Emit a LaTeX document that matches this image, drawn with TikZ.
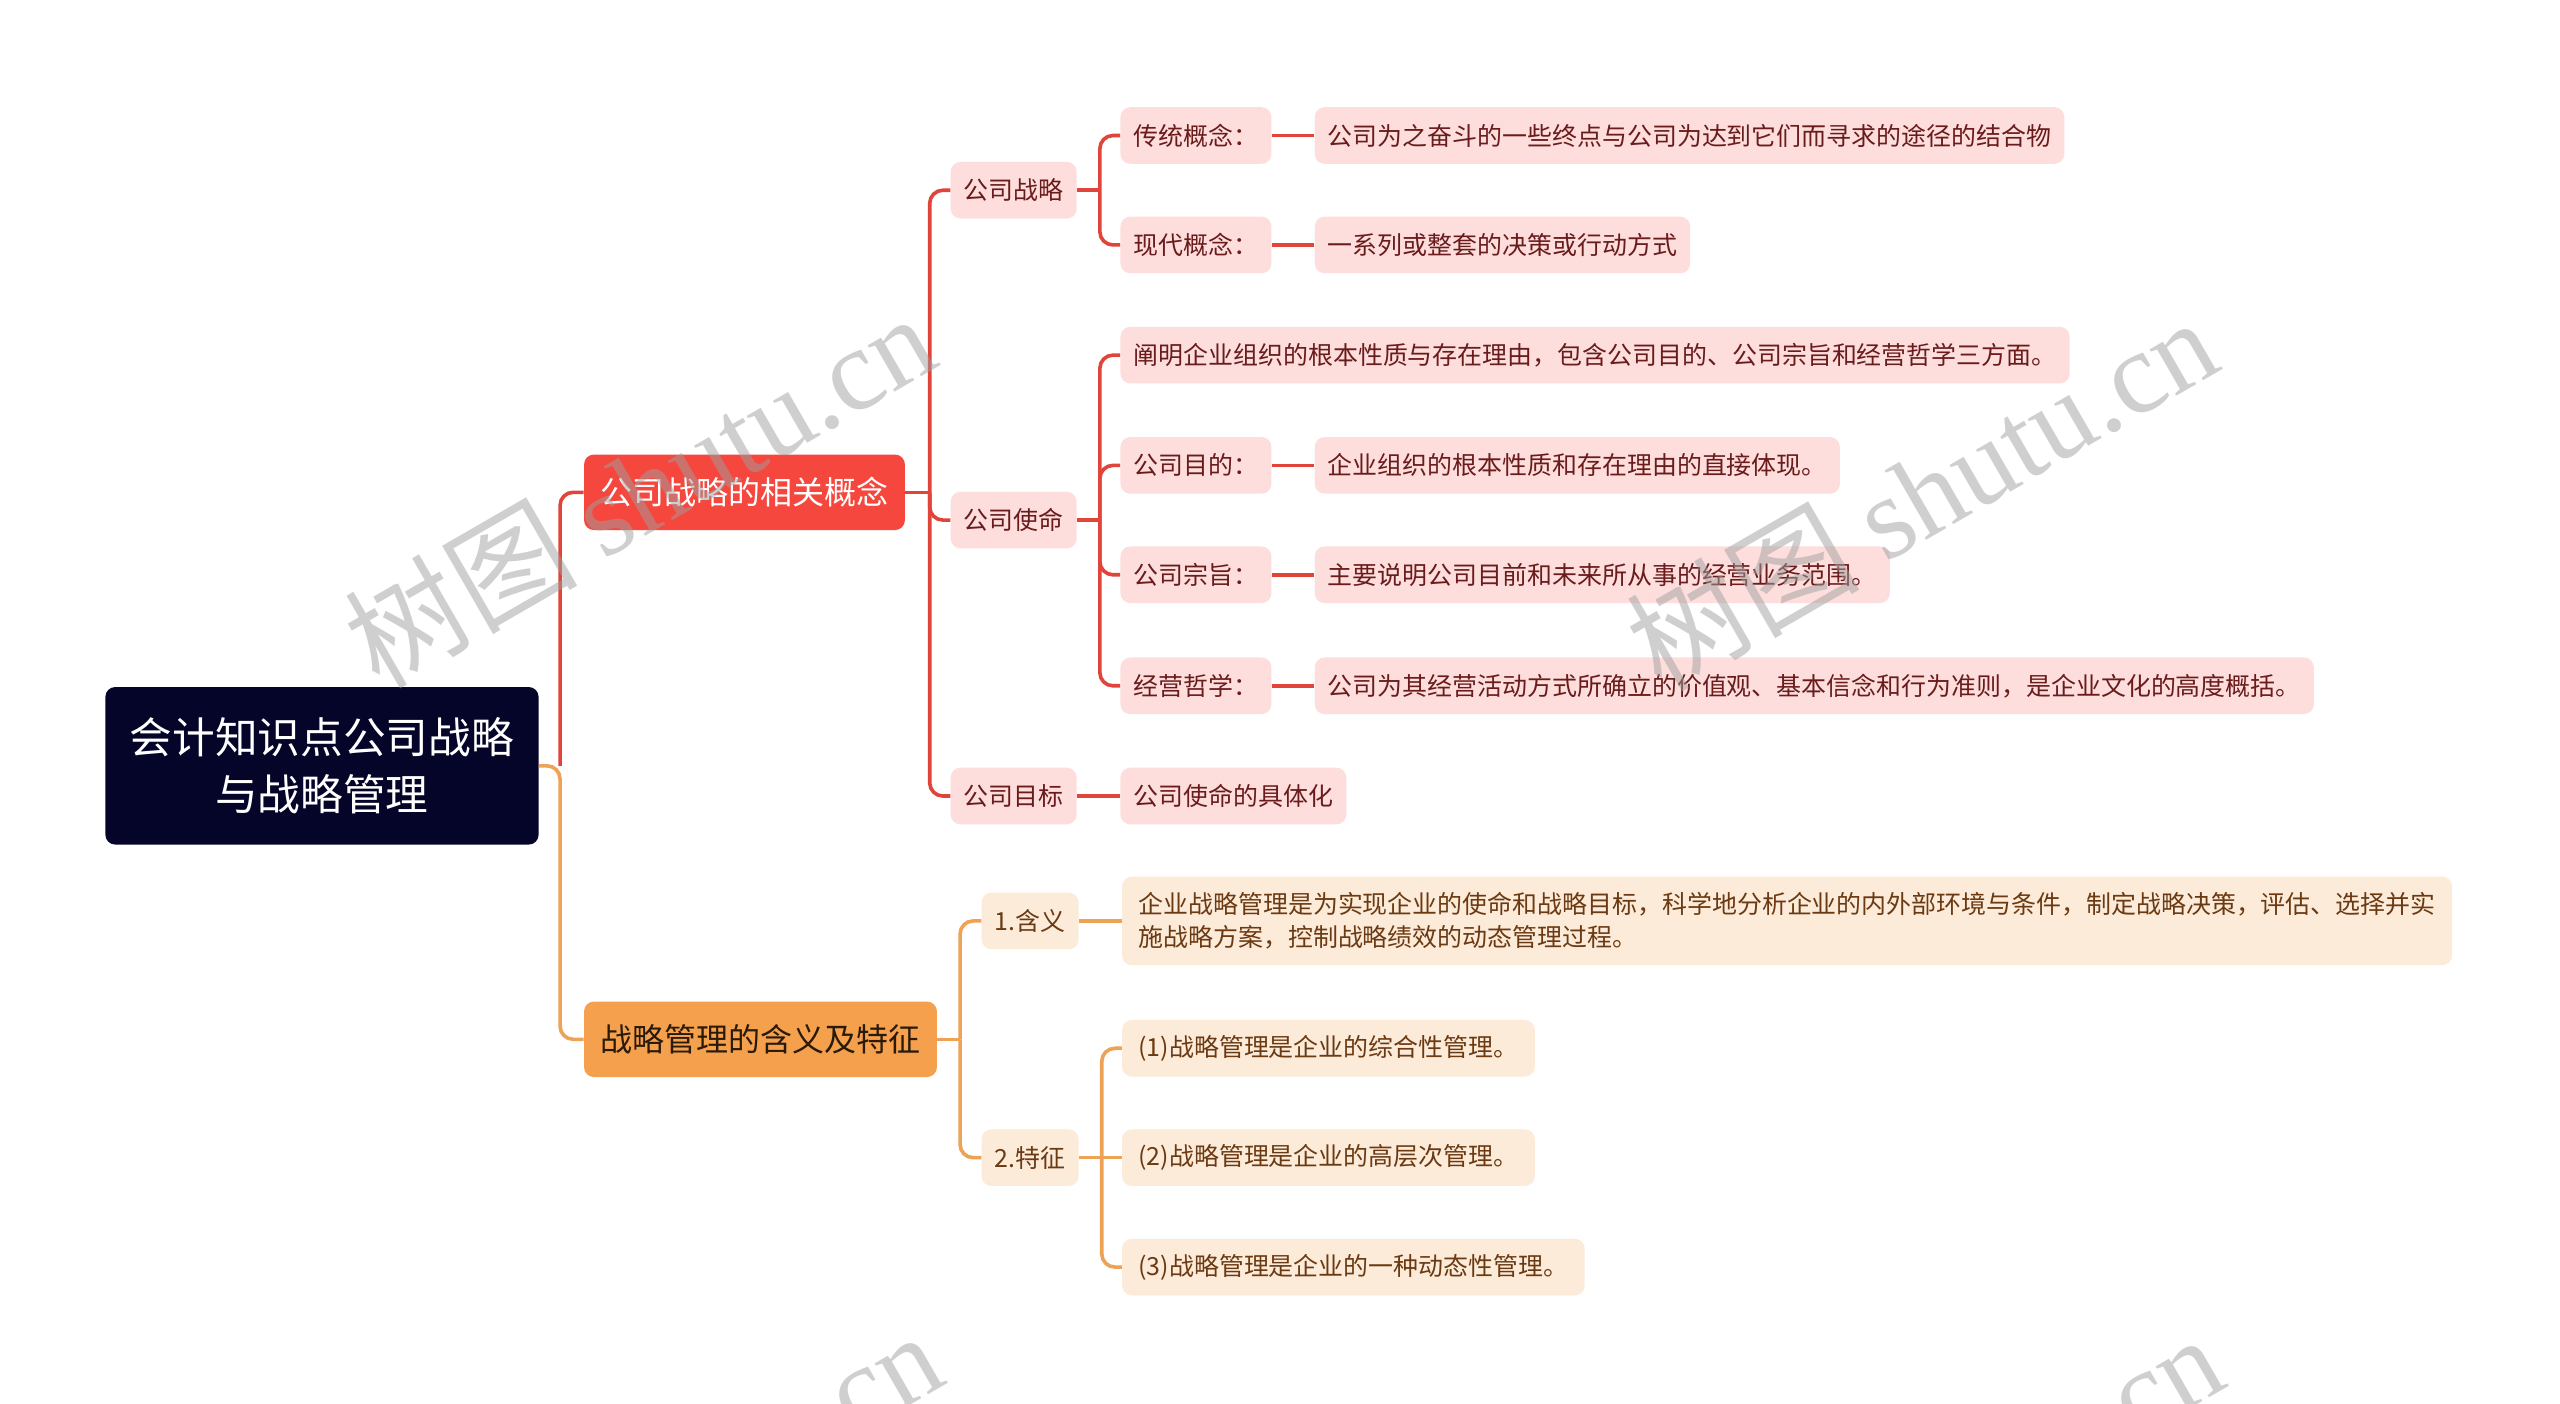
\documentclass[tikz,border=0pt]{standalone}
\usepackage{fontspec}
\usetikzlibrary{calc}
\setmainfont{Noto Sans CJK SC}
\newfontfamily\wmlatin{Liberation Serif}
\newfontfamily\wmcjk{Noto Sans CJK SC}
\definecolor{rootc}{HTML}{05052A}
\definecolor{redb}{HTML}{F5473D}
\definecolor{orgb}{HTML}{F5A04D}
\definecolor{pinkf}{HTML}{FDDEDC}
\definecolor{peachf}{HTML}{FDEBDA}
\definecolor{pinkt}{HTML}{6A1B1B}
\definecolor{peacht}{HTML}{6B3A12}
\definecolor{orgt}{HTML}{2A1A08}
\definecolor{redl}{HTML}{E0443A}
\definecolor{orgl}{HTML}{EDA256}
\definecolor{wmc}{HTML}{A0A0A0}
\begin{document}
\begin{tikzpicture}[x=0.995pt,y=-0.995pt,
  rootbox/.style={fill=rootc,text=white,rounded corners=6pt,align=center,
    font=\fontsize{26}{35}\selectfont,minimum width=264pt,minimum height=96pt,inner sep=0pt},
  redbranch/.style={fill=redb,text=white,rounded corners=6pt,
    font=\fontsize{19.5}{24}\selectfont,minimum height=46pt,inner xsep=10pt,inner ysep=0pt},
  orgbranch/.style={fill=orgb,text=orgt,rounded corners=6pt,
    font=\fontsize{19.5}{24}\selectfont,minimum height=46pt,inner xsep=10pt,inner ysep=0pt},
  pinkbox/.style={fill=pinkf,text=pinkt,rounded corners=6pt,
    font=\fontsize{15.2}{20}\selectfont,minimum height=34.5pt,inner xsep=8pt,inner ysep=0pt,anchor=west},
  peachbox/.style={fill=peachf,text=peacht,rounded corners=6pt,
    font=\fontsize{15.2}{20}\selectfont,minimum height=34.5pt,inner xsep=8pt,inner ysep=0pt,anchor=west},
  redline/.style={draw=redl,line width=2.2pt,rounded corners=8pt},
  orgline/.style={draw=orgl,line width=2.2pt,rounded corners=8pt},
  wm/.style={text=wmc,text opacity=0.5,inner sep=0pt,anchor=base,rotate=30,
    font=\fontsize{71}{76}\selectfont}
]
\useasboundingbox (0,0) rectangle (1567.84,859.3);
\fill[white] (0,0) rectangle (1567.84,859.3);

% nodes
\node[rootbox] (root) at (197.2,469) {会计知识点公司战略\\与战略管理};
\node[redbranch,anchor=west] (b1) at (357.5,301.5) {公司战略的相关概念};
\node[orgbranch,anchor=west] (b2) at (357.5,636.5) {战略管理的含义及特征};

\node[pinkbox] (c1) at (582,116.5) {公司战略};
\node[pinkbox] (c2) at (582,318.5) {公司使命};
\node[pinkbox] (c3) at (582,487.5) {公司目标};

\node[pinkbox] (d1) at (686,83) {传统概念：};
\node[pinkbox] (d2) at (686,150) {现代概念：};
\node[pinkbox] (e1) at (805,83) {公司为之奋斗的一些终点与公司为达到它们而寻求的途径的结合物};
\node[pinkbox] (e2) at (805,150) {一系列或整套的决策或行动方式};

\node[pinkbox] (m0) at (686,217.5) {阐明企业组织的根本性质与存在理由，包含公司目的、公司宗旨和经营哲学三方面。};
\node[pinkbox] (m1) at (686,285) {公司目的：};
\node[pinkbox] (m1l) at (805,285) {企业组织的根本性质和存在理由的直接体现。};
\node[pinkbox] (m2) at (686,352) {公司宗旨：};
\node[pinkbox] (m2l) at (805,352) {主要说明公司目前和未来所从事的经营业务范围。};
\node[pinkbox] (m3) at (686,420) {经营哲学：};
\node[pinkbox] (m3l) at (805,420) {公司为其经营活动方式所确立的价值观、基本信念和行为准则，是企业文化的高度概括。};
\node[pinkbox] (g1) at (686,487.5) {公司使命的具体化};

\node[peachbox] (o1) at (601,564) {1.含义};
\node[peachbox,align=left,minimum height=54pt,inner xsep=10pt] (o1l) at (687,564) {企业战略管理是为实现企业的使命和战略目标，科学地分析企业的内外部环境与条件，制定战略决策，评估、选择并实\\施战略方案，控制战略绩效的动态管理过程。};
\node[peachbox] (o2) at (601,709) {2.特征};
\node[peachbox,inner xsep=10pt] (p1) at (687,642) {(1)战略管理是企业的综合性管理。};
\node[peachbox,inner xsep=10pt] (p2) at (687,709) {(2)战略管理是企业的高层次管理。};
\node[peachbox,inner xsep=10pt] (p3) at (687,776) {(3)战略管理是企业的一种动态性管理。};

% connectors
\coordinate (rj) at (343,469);
\draw[orgline] (root.east) -- (rj) |- (b2.west);
\draw[redline] (rj) |- (b1.west);

\coordinate (j1) at ($(b1.east)+(15,0)$);
\draw[redline] (b1.east) -- (j1);
\draw[redline] (j1) |- (c1.west);
\draw[redline] (j1) |- (c2.west);
\draw[redline] (j1) |- (c3.west);

\coordinate (j2) at ($(c1.east)+(14,0)$);
\draw[redline] (c1.east) -- (j2);
\draw[redline] (j2) |- (d1.west);
\draw[redline] (j2) |- (d2.west);
\draw[redline] (d1.east) -- (e1.west);
\draw[redline] (d2.east) -- (e2.west);

\coordinate (j3) at ($(c2.east)+(14,0)$);
\draw[redline] (c2.east) -- (j3);
\draw[redline] (j3) |- (m0.west);
\draw[redline] (j3) |- (m1.west);
\draw[redline] (j3) |- (m2.west);
\draw[redline] (j3) |- (m3.west);
\draw[redline] (m1.east) -- (m1l.west);
\draw[redline] (m2.east) -- (m2l.west);
\draw[redline] (m3.east) -- (m3l.west);
\draw[redline] (c3.east) -- (g1.west);

\coordinate (j4) at ($(b2.east)+(14,0)$);
\draw[orgline] (b2.east) -- (j4);
\draw[orgline] (j4) |- (o1.west);
\draw[orgline] (j4) |- (o2.west);
\draw[orgline] (o1.east) -- (o1l.west);

\coordinate (j5) at ($(o2.east)+(14,0)$);
\draw[orgline] (o2.east) -- (j5);
\draw[orgline] (j5) |- (p1.west);
\draw[orgline] (j5) -- (p2.west);
\draw[orgline] (j5) |- (p3.west);

% watermarks
\begin{scope}
\clip (0,0) rectangle (1567.84,859.3);
\node[wm] (w1) at (405,323) {{\wmcjk 树图} {\wmlatin shutu.cn}};
\node[wm] (w2) at (1190,325) {{\wmcjk 树图} {\wmlatin shutu.cn}};
\node[wm] (w3) at (409,946) {{\wmcjk 树图} {\wmlatin shutu.cn}};
\node[wm] (w4) at (1194,948) {{\wmcjk 树图} {\wmlatin shutu.cn}};
\end{scope}
\end{tikzpicture}
\end{document}
